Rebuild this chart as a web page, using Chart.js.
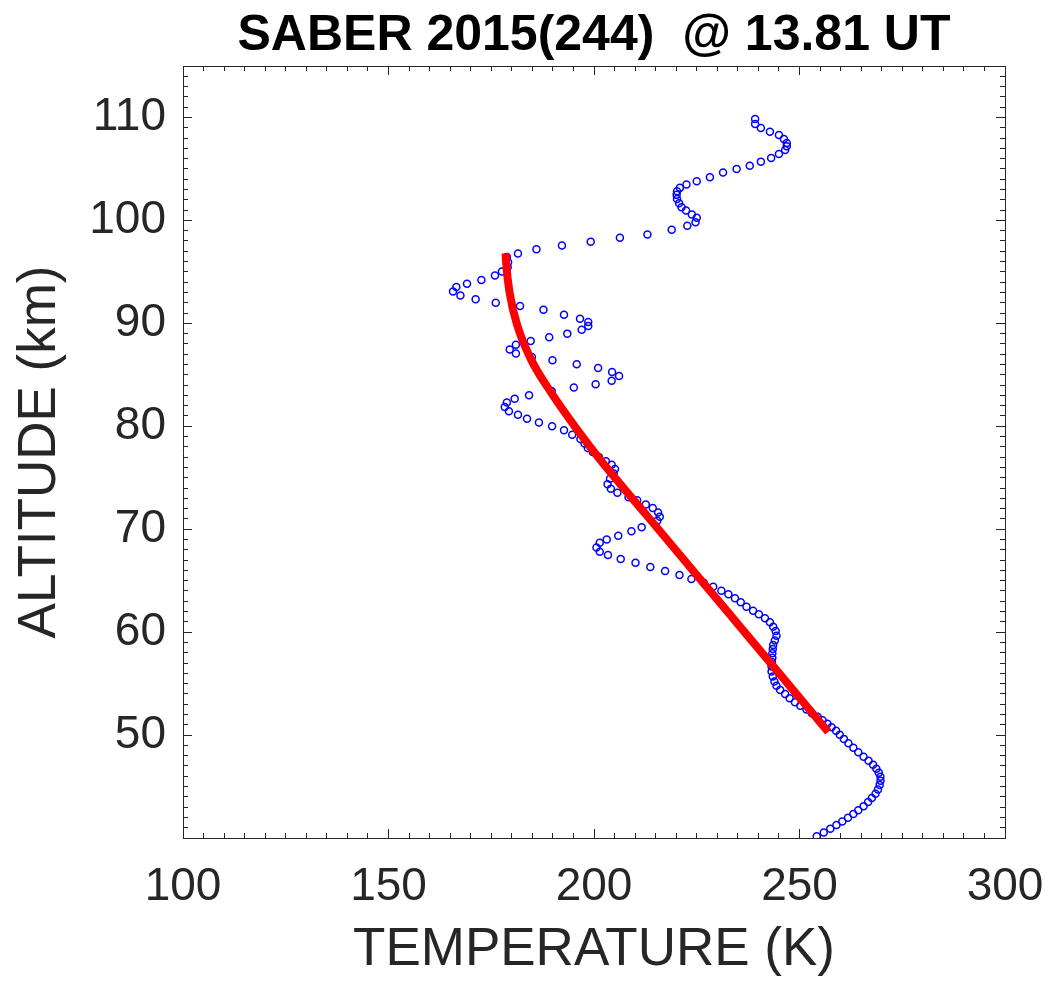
<!DOCTYPE html>
<html><head><meta charset="utf-8">
<script src="https://cdn.jsdelivr.net/npm/chart.js@4"></script>
<style>html,body{margin:0;padding:0;background:#fff}#wrap{width:1050px;height:981px}</style>
</head><body><div id="wrap"><canvas id="c" width="1050" height="981"></canvas></div>
<script>
// ---- data ----
const profileTemp = [
239.2,239.2,240.6,242.8,245.0,246.2,246.9,246.9,246.5,245.0,
243.1,240.6,237.9,234.7,231.4,228.2,225.0,222.5,220.9,220.2,
220.1,220.2,220.7,221.3,222.4,223.8,225.0,224.7,222.7,218.9,
213.0,206.3,199.2,192.2,186.0,181.5,178.8,179.1,179.0,177.6,
175.9,172.6,169.1,166.5,165.7,167.5,171.2,176.1,182.0,187.7,
192.7,196.6,198.6,198.6,197.0,193.5,189.1,184.6,181.0,179.5,
181.0,184.9,189.9,195.8,201.0,204.4,206.1,204.3,200.4,195.1,
189.7,184.2,180.7,178.8,178.3,179.3,181.5,183.7,186.6,189.8,
192.7,194.7,196.7,197.7,198.5,199.7,201.2,202.9,204.3,205.1,
204.8,203.9,203.3,204.1,205.7,208.4,210.5,212.6,214.3,215.6,
216.0,215.4,211.6,209.1,205.9,203.1,201.4,200.6,201.4,203.4,
206.5,210.1,213.7,217.3,220.8,223.7,226.7,229.0,231.0,232.7,
234.3,235.7,237.1,238.7,240.1,241.6,242.8,243.6,244.2,244.4,
244.0,243.6,243.5,243.4,243.4,243.3,243.2,243.2,243.5,243.9,
244.4,245.3,246.5,247.6,248.9,250.2,251.7,253.0,254.4,255.6,
256.8,257.8,258.9,259.8,260.8,261.9,263.1,264.3,265.6,266.8,
267.9,268.7,269.3,269.7,269.7,269.5,269.1,268.5,267.6,266.7,
265.6,264.3,263.1,261.8,260.4,259.0,257.5,255.9,254.2
];
const profileAlt = [
109.86,109.37,108.98,108.62,108.30,107.91,107.53,107.20,106.85,106.46,
106.07,105.71,105.32,105.00,104.65,104.19,103.80,103.48,103.16,102.83,
102.48,102.09,101.67,101.28,100.96,100.57,100.25,99.82,99.47,99.09,
98.63,98.31,97.92,97.56,97.20,96.79,96.45,95.94,95.46,95.04,
94.65,94.22,93.85,93.52,93.10,92.71,92.35,92.00,91.69,91.31,
90.84,90.45,90.12,89.73,89.38,89.00,88.64,88.28,87.93,87.47,
87.06,86.73,86.41,86.02,85.66,85.27,84.88,84.42,84.08,83.76,
83.43,83.01,82.67,82.30,81.87,81.46,81.12,80.73,80.36,80.00,
79.61,79.18,78.77,78.32,77.90,77.51,77.02,76.61,76.25,75.85,
75.41,74.89,74.37,73.92,73.53,73.11,72.82,72.40,72.05,71.63,
71.22,70.83,70.18,69.80,69.36,69.01,68.68,68.23,67.81,67.49,
67.10,66.74,66.32,65.93,65.55,65.16,64.80,64.41,64.02,63.67,
63.29,62.90,62.47,62.08,61.73,61.34,60.96,60.53,60.11,59.66,
59.19,58.75,58.37,57.95,57.52,57.10,56.67,56.18,55.70,55.21,
54.78,54.39,53.98,53.58,53.19,52.84,52.48,52.11,51.77,51.43,
51.09,50.75,50.41,50.02,49.63,49.20,48.76,48.32,47.89,47.50,
47.11,46.72,46.34,45.95,45.56,45.14,44.72,44.30,43.88,43.49,
43.09,42.70,42.33,41.97,41.61,41.26,40.90,40.53,40.16
];
const fitTemp = [178.5,178.6,179.5,181.5,184.8,189.7,195.5,202.0,212.5,223.0,233.5,244.0,257.0];
const fitAlt  = [96.8,96.0,92.9,89.6,86.4,83.2,79.9,76.5,71.5,66.5,61.5,56.5,50.3];
const xMajorTicks = [100,150,200,250,300];
const yMajorTicks = [50,60,70,80,90,100,110];
const xRange = [100,300];
const yRange = [40,115];
const xMinorStep = 5;
const yMinorStep = 1;
const titleText = 'SABER 2015(244)  @ 13.81 UT';
const xTitleText = 'TEMPERATURE (K)';
const yTitleText = 'ALTITUDE (km)';

// ---- chart ----
const FAM = '"Liberation Sans", Arial, Helvetica, sans-serif';
const AX = '#262626';
function minorList(lo, hi, step){ const a=[]; for(let v=lo; v<=hi+1e-9; v+=step) a.push({value:Math.round(v*1000)/1000}); return a; }
function majorTicks(list){ return s => { s.ticks = list.map(v => ({value:v})); }; }
function minorTicks(lo,hi,step){ return s => { s.ticks = minorList(lo,hi,step); }; }
function zeroPad(s){ s.paddingLeft = 0; s.paddingRight = 0; s.paddingTop = 0; s.paddingBottom = 0; }

function sideAxis(pos, range, tickFn, len, border){
  return {
    type:'linear', position:pos, min:range[0], max:range[1],
    weight: border ? 1 : 0,
    afterBuildTicks: tickFn,
    afterFit: s => { if (pos==='top'||pos==='bottom') s.height = 0; else s.width = 0; zeroPad(s); },
    grid:{drawOnChartArea:false, drawTicks:true, tickLength:-len, tickColor:AX, tickWidth:1},
    border:{display:border, color:AX, width:1},
    ticks:{display:false}
  };
}

const scales = {
  x: {
    type:'linear', position:'bottom', min:xRange[0], max:xRange[1], weight:1,
    afterBuildTicks: majorTicks(xMajorTicks),
    afterFit: s => { s.height = 143; zeroPad(s); },
    grid:{drawOnChartArea:false, drawTicks:true, tickLength:-9, tickColor:AX, tickWidth:1},
    border:{display:true, color:AX, width:1},
    ticks:{color:AX, font:{family:FAM, size:46, lineHeight:1.2}, padding:31, autoSkip:false, maxRotation:0,
           callback:v => String(v)},
    title:{display:true, text:xTitleText, color:AX, font:{family:FAM, size:53, lineHeight:1.1}, padding:{top:0,bottom:1}}
  },
  xMinor: sideAxis('bottom', xRange, minorTicks(xRange[0],xRange[1],xMinorStep), 5, false),
  xTop: sideAxis('top', xRange, majorTicks(xMajorTicks), 9, true),
  xTopMinor: sideAxis('top', xRange, minorTicks(xRange[0],xRange[1],xMinorStep), 5, false),
  y: {
    type:'linear', position:'left', min:yRange[0], max:yRange[1], weight:1,
    afterBuildTicks: majorTicks(yMajorTicks),
    afterFit: s => { s.width = 183; zeroPad(s); },
    grid:{drawOnChartArea:false, drawTicks:true, tickLength:-9, tickColor:AX, tickWidth:1},
    border:{display:true, color:AX, width:1},
    ticks:{color:AX, font:{family:FAM, size:46, lineHeight:1.2}, padding:26, autoSkip:false,
           callback:v => String(v)},
    title:{display:true, text:yTitleText, color:AX, font:{family:FAM, size:53, lineHeight:1.2}, padding:{top:9,bottom:0}}
  },
  yMinor: sideAxis('left', yRange, minorTicks(yRange[0],yRange[1],yMinorStep), 5, false),
  yRight: sideAxis('right', yRange, majorTicks(yMajorTicks), 9, true),
  yRightMinor: sideAxis('right', yRange, minorTicks(yRange[0],yRange[1],yMinorStep), 5, false)
};

const profilePts = profileTemp.map((t,i) => ({x:t, y:profileAlt[i]}));
const fitPts = fitTemp.map((t,i) => ({x:t, y:fitAlt[i]}));

new Chart(document.getElementById('c'), {
  type:'scatter',
  data:{
    datasets:[
      {label:'fit', data:fitPts, showLine:true, borderColor:'#ff0000', backgroundColor:'#ff0000',
       borderWidth:8, pointRadius:0, cubicInterpolationMode:'monotone', borderCapStyle:'butt', xAxisID:'x', yAxisID:'y'},
      {label:'SABER', data:profilePts, showLine:false, pointStyle:'circle', pointRadius:3.5,
       pointBorderWidth:1.5, pointBorderColor:'#0000ff', pointBackgroundColor:'rgba(0,0,0,0)',
       borderColor:'#0000ff', backgroundColor:'rgba(0,0,0,0)', xAxisID:'x', yAxisID:'y'}
    ]
  },
  options:{
    responsive:false, animation:false, devicePixelRatio:1,
    layout:{padding:{top:0,right:45,bottom:0,left:0}},
    plugins:{
      legend:{display:false}, tooltip:{enabled:false},
      title:{display:true, fullSize:false, text:titleText, color:'#000', font:{family:FAM, size:50, weight:'bold', lineHeight:1.18},
             padding:{top:7, bottom:0}}
    },
    scales: scales
  }
});
</script></body></html>
